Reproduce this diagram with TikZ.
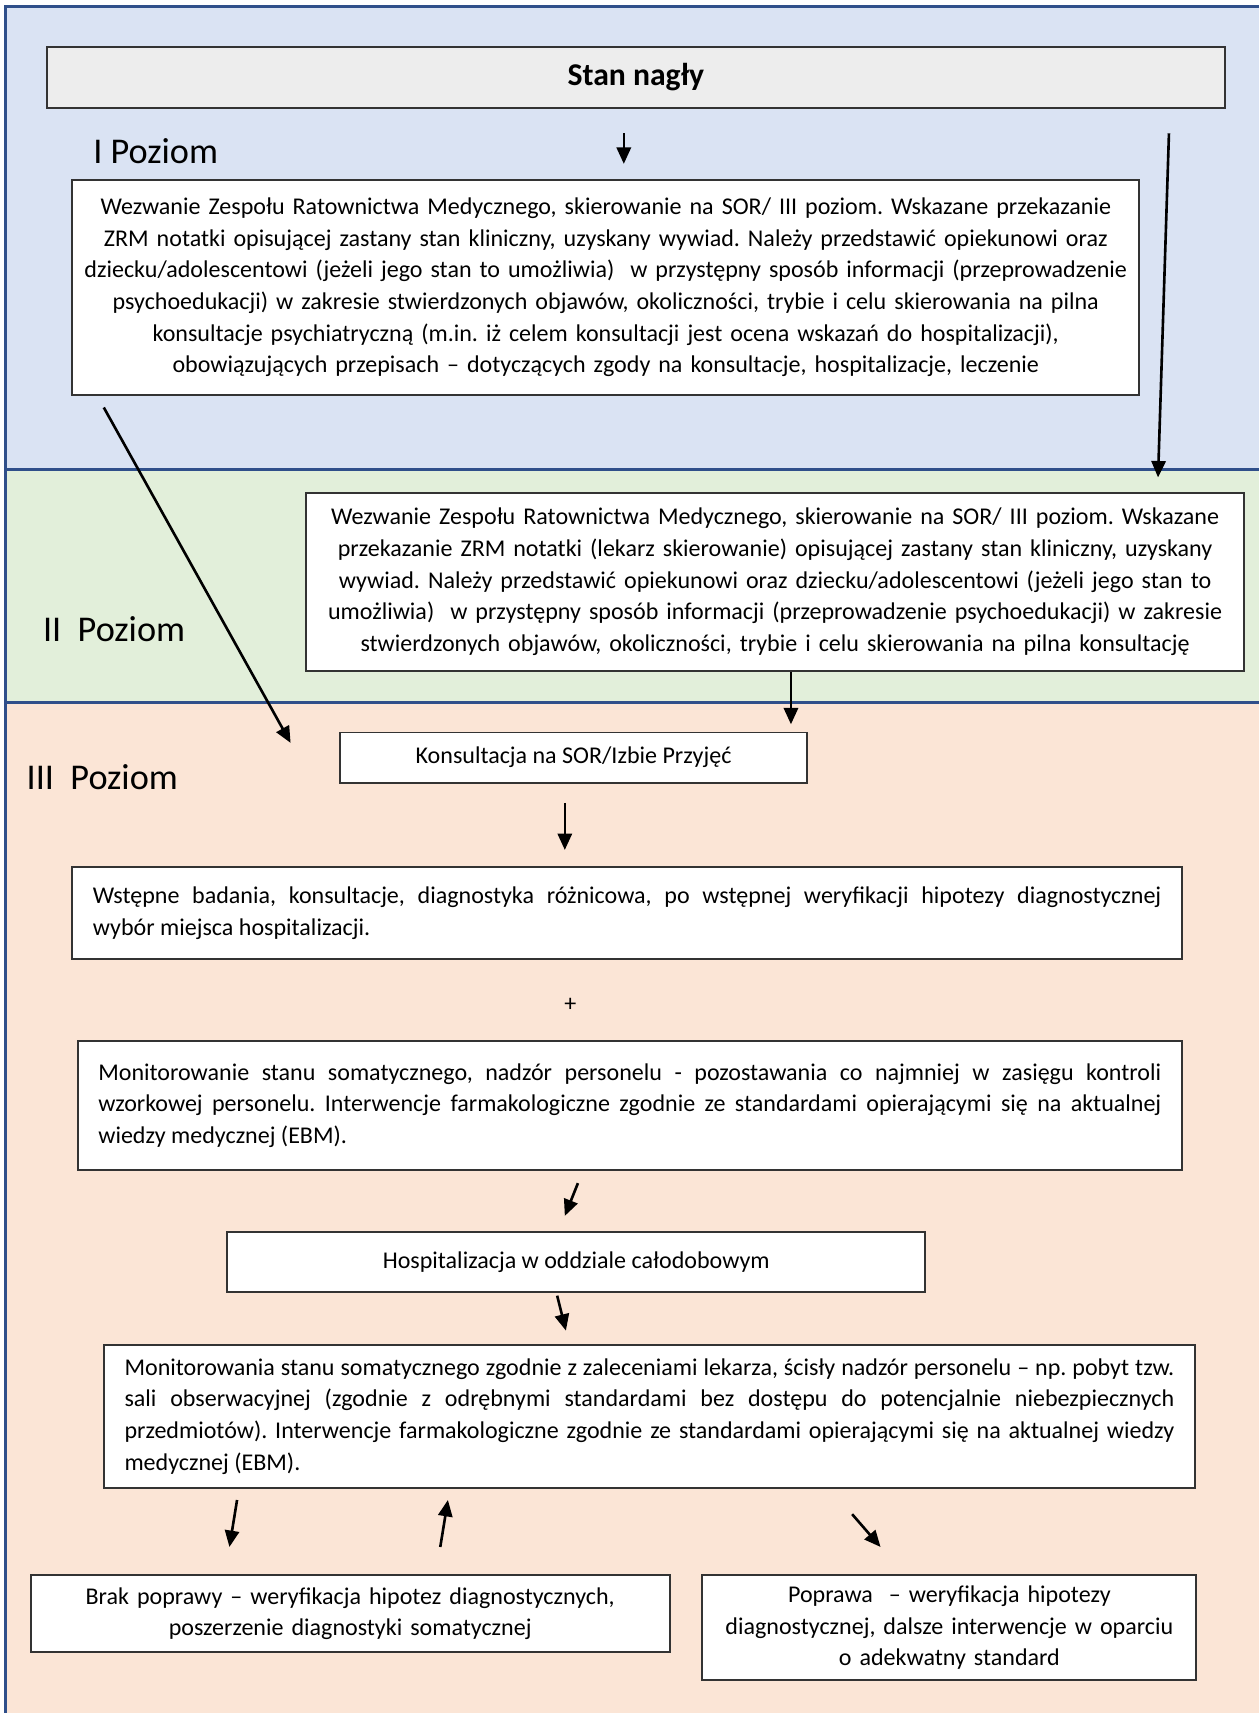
\documentclass[tikz,border=0pt]{standalone}
\usepackage{fontspec}
\setmainfont{Carlito}
\frenchspacing
\usetikzlibrary{arrows.meta}
\definecolor{bandblue}{HTML}{DAE3F3}
\definecolor{bandgreen}{HTML}{E2EFDA}
\definecolor{bandpeach}{HTML}{FBE5D6}
\definecolor{edgeblue}{HTML}{2F4F8A}
\definecolor{titlegray}{HTML}{EDEDED}
\tikzset{>={Triangle[length=7.5pt,width=6.5pt]}}
\tikzstyle{infobox}=[rectangle,draw=black!80,fill=white,line width=0.9pt,inner sep=0pt,font=\fontsize{11}{14.5}\selectfont]
\tikzstyle{centerbox}=[infobox,align=center]
\tikzstyle{justbox}=[infobox,align=justify]
\tikzstyle{titlebox}=[infobox,fill=titlegray,font=\fontsize{14.5}{16}\selectfont\bfseries]
\tikzstyle{level}=[anchor=base west,inner sep=0pt,font=\fontsize{16.6}{20}\selectfont]
\tikzstyle{flow}=[->,line width=1.2pt]
\tikzstyle{edge}=[draw=edgeblue,line width=1.4pt]

\begin{document}
\begin{tikzpicture}[x=0.5pt,y=-0.5pt]
    \useasboundingbox (0,0) rectangle (1152,1568);

    % bands
    \fill[bandblue] (5,6) rectangle (1152,430);
    \fill[bandgreen] (5,430) rectangle (1152,643);
    \fill[bandpeach] (5,643) rectangle (1152,1568);
    \draw[edge] (1152,6) -- (5,6) -- (5,1568);
    \draw[edge] (5,430) -- (1152,430);
    \draw[edge] (5,643) -- (1152,643);

    \node[level] (lvl1) at (85,150) {I Poziom};
    \node[level] (lvl2) at (39,587) {II\ \ Poziom};
    \node[level] (lvl3) at (24,723) {III\ \ Poziom};

    \node[titlebox,minimum width=539pt,minimum height=28pt] (stan) at (582,71) {Stan nagły};

    \node[centerbox,text width=480pt,minimum width=488.5pt,minimum height=98.5pt] (poz1) at (554.5,263) {Wezwanie Zespołu Ratownictwa Medycznego, skierowanie na SOR/ III poziom. Wskazane przekazanie\\ZRM notatki opisującej zastany stan kliniczny, uzyskany wywiad. Należy przedstawić opiekunowi oraz\\dziecku/adolescentowi (jeżeli jego stan to umożliwia)\ \ w przystępny sposób informacji (przeprowadzenie\\psychoedukacji) w zakresie stwierdzonych objawów, okoliczności, trybie i celu skierowania na pilna\\konsultacje psychiatryczną (m.in. iż celem konsultacji jest ocena wskazań do hospitalizacji),\\obowiązujących przepisach – dotyczących zgody na konsultacje, hospitalizacje, leczenie};

    \node[centerbox,text width=420pt,minimum width=429.5pt,minimum height=81.5pt] (poz2) at (709.5,532.5) {Wezwanie Zespołu Ratownictwa Medycznego, skierowanie na SOR/ III poziom. Wskazane\\przekazanie ZRM notatki (lekarz skierowanie) opisującej zastany stan kliniczny, uzyskany\\wywiad. Należy przedstawić opiekunowi oraz dziecku/adolescentowi (jeżeli jego stan to\\umożliwia)\ \ w przystępny sposób informacji (przeprowadzenie psychoedukacji) w zakresie\\stwierdzonych objawów, okoliczności, trybie i celu skierowania na pilna konsultację};

    \node[centerbox,minimum width=214pt,minimum height=23pt] (konsult) at (525,693.5) {Konsultacja na SOR/Izbie Przyjęć};

    \node[justbox,text width=489pt,minimum width=508pt,minimum height=42pt] (wstep) at (574,836) {Wstępne badania, konsultacje, diagnostyka różnicowa, po wstępnej weryfikacji hipotezy diagnostycznej\linebreak wybór miejsca hospitalizacji.};

    \node[inner sep=0pt,font=\fontsize{11}{14.5}\selectfont] (plus) at (522,920) {+};

    \node[justbox,text width=486.5pt,minimum width=505.5pt,minimum height=59pt] (monit) at (576.5,1012) {Monitorowanie stanu somatycznego, nadzór personelu - pozostawania co najmniej w zasięgu kontroli\linebreak wzorkowej personelu. Interwencje farmakologiczne zgodnie ze standardami opierającymi się na aktualnej\linebreak wiedzy medycznej (EBM).};

    \node[centerbox,minimum width=319.5pt,minimum height=27.5pt] (hosp) at (527.5,1155.5) {Hospitalizacja w oddziale całodobowym};

    \node[justbox,text width=480.5pt,minimum width=499.5pt,minimum height=65.5pt] (monit2) at (594.5,1296.5) {Monitorowania stanu somatycznego zgodnie z zaleceniami lekarza, ścisły nadzór personelu – np. pobyt tzw.\linebreak sali obserwacyjnej (zgodnie z odrębnymi standardami bez dostępu do potencjalnie niebezpiecznych\linebreak przedmiotów). Interwencje farmakologiczne zgodnie ze standardami opierającymi się na aktualnej wiedzy\linebreak medycznej (EBM).};

    \node[centerbox,text width=280pt,minimum width=292.5pt,minimum height=35pt] (brak) at (320.5,1477) {Brak poprawy – weryfikacja hipotez diagnostycznych,\\poszerzenie diagnostyki somatycznej};

    \node[centerbox,text width=215pt,minimum width=226pt,minimum height=48pt] (popr) at (869,1490) {Poprawa\ \ – weryfikacja hipotezy\\diagnostycznej, dalsze interwencje w oparciu\\o adekwatny standard};

    % arrows
    \foreach \sx/\sy/\ex/\ey [count=\i] in {571/122/571/150, 1070/122/1060/437, 95/373/266/680, 724/615/724/663, 517/735/517/778, 529/1083/517/1113, 510/1186/518/1218, 217/1373/210/1416, 403/1416/410/1373, 780/1386/806/1416} {
        \coordinate (s\i) at (\sx,\sy);
        \coordinate (e\i) at (\ex,\ey);
        \draw[flow] (s\i) -- (e\i);
    };
\end{tikzpicture}
\end{document}
